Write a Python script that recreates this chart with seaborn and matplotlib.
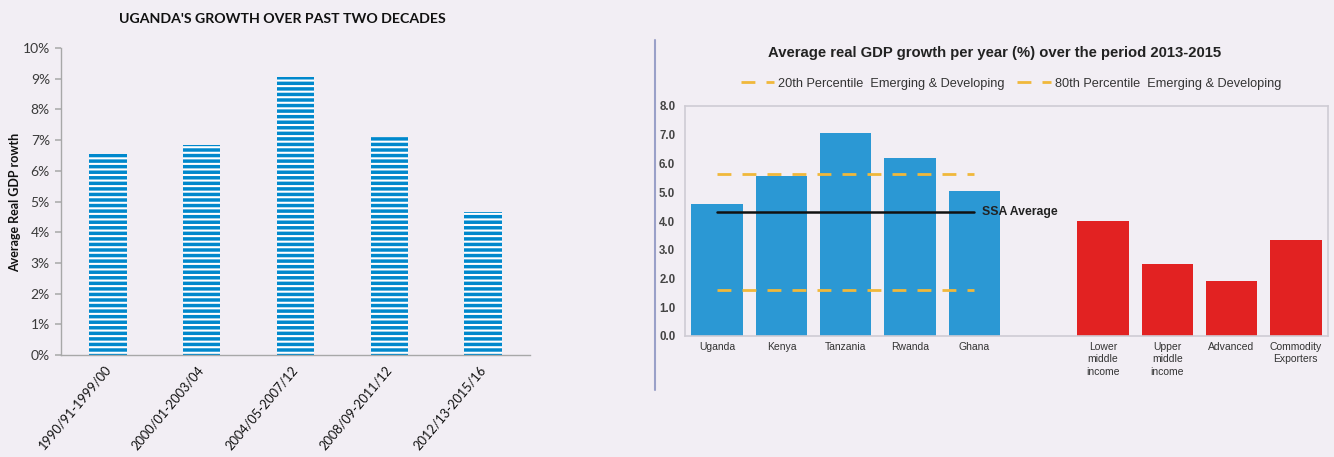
import numpy as np
import pandas as pd
import matplotlib
matplotlib.use("Agg")
import matplotlib.pyplot as plt
from matplotlib.lines import Line2D
from matplotlib.ticker import PercentFormatter
import seaborn as sns

# ---------------- data ----------------
periods = ["1990/91-1999/00", "2000/01-2003/04", "2004/05-2007/12",
           "2008/09-2011/12", "2012/13-2015/16"]
uganda_growth = [6.55, 6.85, 9.05, 7.1, 4.65]

right_order = ["Uganda", "Kenya", "Tanzania", "Rwanda", "Ghana", " ",
               "Lower\nmiddle\nincome", "Upper\nmiddle\nincome", "Advanced",
               "Commodity\nExporters"]
right_cats = ["Uganda", "Kenya", "Tanzania", "Rwanda", "Ghana",
              "Lower\nmiddle\nincome", "Upper\nmiddle\nincome", "Advanced",
              "Commodity\nExporters"]
right_vals = [4.6, 5.55, 7.05, 6.2, 5.05, 4.0, 2.5, 1.9, 3.35]
right_group = ["country"] * 5 + ["group"] * 4

line_countries = ["Uganda", "Kenya", "Tanzania", "Rwanda", "Ghana"]
p20_value = 1.6
p80_value = 5.65
ssa_avg = 4.3

BG = "#f2eef4"
sns.set_theme(style="white")
plt.rcParams["font.family"] = ["Lato", "DejaVu Sans"]
plt.rcParams["hatch.linewidth"] = 1.5

fig = plt.figure(figsize=(13.34, 4.57), dpi=100, facecolor=BG)

# ---------------- left chart ----------------
axL = fig.add_axes([61 / 1334, 1 - 355 / 457, 469 / 1334, 307 / 457])
axL.set_facecolor(BG)
dfL = pd.DataFrame({"period": periods, "growth": uganda_growth})
sns.barplot(data=dfL, x="period", y="growth", color="#0088cc", width=0.4,
            saturation=1, ax=axL)
for p in axL.patches:
    p.set_hatch("---")
    p.set_edgecolor("white")
    p.set_linewidth(0)
axL.set_ylim(0, 10)
axL.set_xlim(-0.5, 4.5)
axL.set_yticks(range(0, 11))
axL.yaxis.set_major_formatter(PercentFormatter(decimals=0))
axL.tick_params(axis="y", length=4, color="#b0b0b0", labelsize=10,
                labelcolor="#3a3a3a", left=True, pad=4)
axL.tick_params(axis="x", length=0, labelsize=9.2, labelcolor="#111111", pad=9)
for lab in axL.get_xticklabels():
    lab.set_rotation(50)
    lab.set_ha("right")
    lab.set_va("center")
    lab.set_rotation_mode("anchor")
for s in ["top", "right"]:
    axL.spines[s].set_visible(False)
for s in ["left", "bottom"]:
    axL.spines[s].set_color("#a8a8a8")
    axL.spines[s].set_linewidth(1)
axL.set_xlabel("")
axL.set_ylabel("")
fig.text(15 / 1334, 1 - 202 / 457, "Average Real GDP rowth", rotation=90,
         ha="center", va="center", fontsize=9, fontweight="bold", color="#111111")
fig.text(282 / 1334, 1 - 19 / 457, "UGANDA'S GROWTH OVER PAST TWO DECADES",
         ha="center", va="center", fontsize=10.2, fontweight="bold", color="#111111")

# separator line of right image
fig.add_artist(Line2D([655 / 1334, 655 / 1334], [1 - 40 / 457, 1 - 390 / 457],
                      transform=fig.transFigure, color="#9aa0c8", lw=1.5))

# ---------------- right chart ----------------
RF = ["Liberation Sans", "DejaVu Sans"]
axR = fig.add_axes([685 / 1334, 1 - 336 / 457, 643 / 1334, 230 / 457])
axR.set_facecolor(BG)
dfR = pd.DataFrame({"cat": right_cats, "val": right_vals, "grp": right_group})
sns.barplot(data=dfR, x="cat", y="val", hue="grp", order=right_order,
            palette={"country": "#2b98d4", "group": "#e22222"},
            dodge=False, width=0.8, saturation=1, legend=False,
            linewidth=0, ax=axR)
xpos = [right_order.index(c) for c in line_countries]
dash = dict(color="#f0b83a", lw=2, dashes=(5, 4))
l20, = axR.plot(xpos, [p20_value] * len(xpos), **dash,
                label="20th Percentile  Emerging & Developing")
l80, = axR.plot(xpos, [p80_value] * len(xpos), **dash,
                label="80th Percentile  Emerging & Developing")
axR.plot(xpos, [ssa_avg] * len(xpos), color="#111111", lw=1.8)
axR.text(xpos[-1] + 0.12, ssa_avg, "SSA Average", va="center", ha="left",
         fontsize=8.8, fontweight="bold", color="#222222", family=RF)
axR.set_ylim(0, 8)
axR.set_xlim(-0.5, 9.5)
axR.set_yticks(np.arange(0, 9, 1))
axR.set_yticklabels([f"{v:.1f}" for v in range(0, 9)], family=RF)
axR.tick_params(axis="y", length=0, labelsize=8.3, labelcolor="#444444", pad=7)
axR.tick_params(axis="x", length=0, labelsize=7.5, labelcolor="#333333", pad=4)
for lab in axR.get_yticklabels():
    lab.set_fontweight("bold")
for lab in axR.get_xticklabels():
    lab.set_family(RF)
    lab.set_linespacing(1.35)
for s in axR.spines.values():
    s.set_color("#cfccd4")
    s.set_linewidth(1.2)
axR.set_xlabel("")
axR.set_ylabel("")
axR.legend(handles=[l20, l80], loc="lower center", bbox_to_anchor=(0.507, 1.02),
           ncol=2, frameon=False, prop={"family": RF, "size": 9.2},
           handlelength=2.6, handletextpad=0.3, columnspacing=1.0,
           labelcolor="#333333")
fig.text(995 / 1334, 1 - 53 / 457,
         "Average real GDP growth per year (%) over the period 2013-2015",
         ha="center", va="center", fontsize=10.7, fontweight="bold",
         color="#222222", family=RF)

fig.savefig("out.png", dpi=100, facecolor=BG)
